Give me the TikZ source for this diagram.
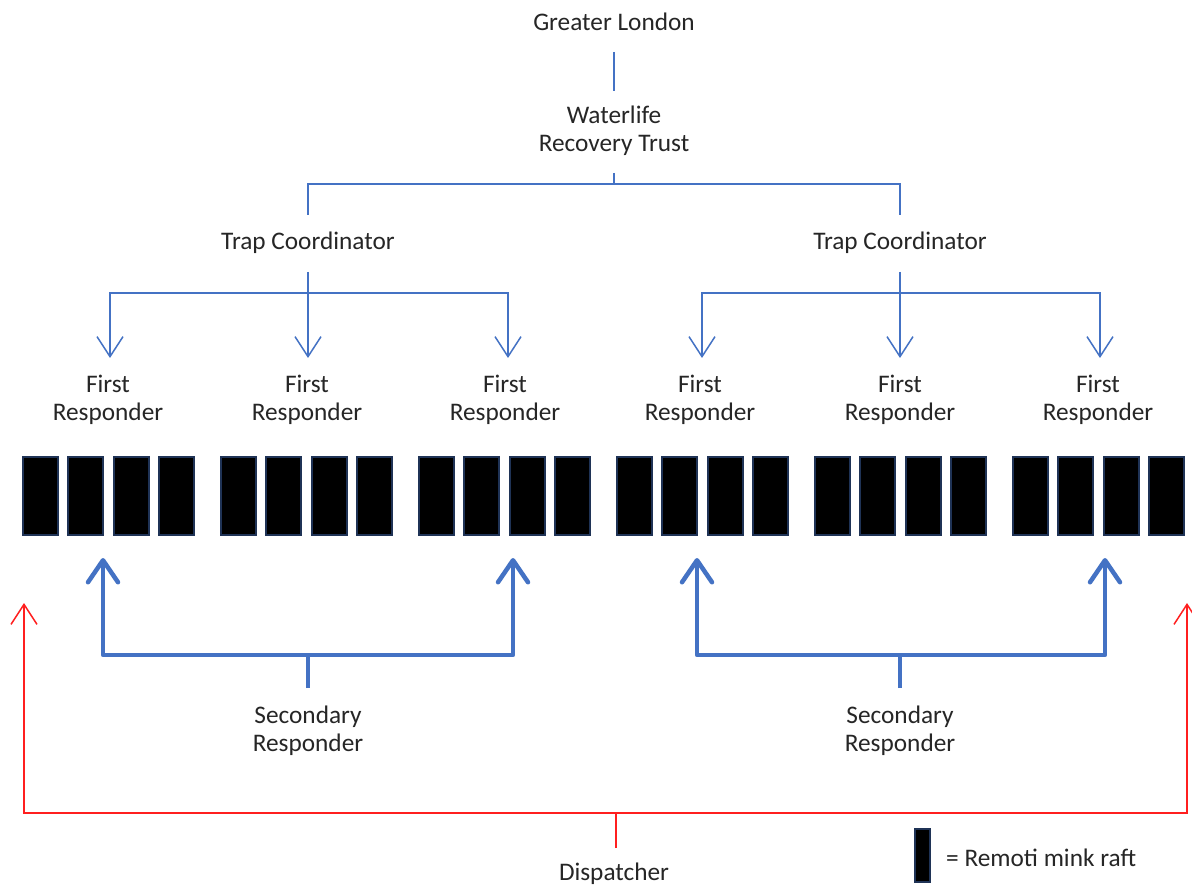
\documentclass[tikz,border=0pt]{standalone}
\usepackage{fontspec}
\setmainfont{Carlito}
\usetikzlibrary{arrows.meta}
\definecolor{lblue}{HTML}{4472C4}
\definecolor{txt}{HTML}{262626}
\definecolor{navy}{HTML}{1F3356}
\definecolor{redl}{HTML}{FF1F1F}
\begin{document}
\begin{tikzpicture}[x=1pt,y=-1pt,
  lbl/.style={inner sep=0pt, align=center, text=txt, font=\fontsize{25.3}{28}\selectfont},
  thinline/.style={draw=lblue, line width=1.5pt},
  thinarrow/.style={thinline, -{Straight Barb[length=20pt,width=26pt]}},
  thickline/.style={draw=lblue, line width=4.5pt, line join=round},
  thickarrow/.style={thickline, -{Straight Barb[length=22pt,width=30pt,round]}},
  redline/.style={draw=redl, line width=1.5pt},
  redarrow/.style={redline, -{Straight Barb[length=20pt,width=26pt]}},
  raft/.style={draw=navy, fill=black, line width=2pt, minimum width=35pt, minimum height=78pt, inner sep=0pt}]
\useasboundingbox (0,0) rectangle (1192,885);
\fill[white] (0,0) rectangle (1192,885);

% text nodes
\node[lbl] (gl) at (614,22) {Greater London};
\node[lbl] (wrt) at (614,131) {Waterlife\\Recovery Trust};
\node[lbl] (tcL) at (308,243) {Trap Coordinator};
\node[lbl] (tcR) at (900,243) {Trap Coordinator};
\foreach \n/\x in {1/108,2/307,3/505,4/700,5/900,6/1098}
  \node[lbl] (fr\n) at (\x,400) {First\\Responder};
\node[lbl] (srL) at (308,731) {Secondary\\Responder};
\node[lbl] (srR) at (900,731) {Secondary\\Responder};
\node[lbl] (disp) at (614,874) {Dispatcher};

% rafts
\foreach \g in {0,...,5}
  \foreach \i in {0,...,3}
    \node[raft] (r\g-\i) at ({22+198*\g+45.3*\i+18.5},496) {};

% legend
\node[raft, minimum width=15pt, minimum height=53pt] (leg) at (922.5,855) {};
\node[lbl, anchor=west] (legt) at (946,858) {= Remoti mink raft};

% coordinates
\coordinate (glb) at (614,52);
\coordinate (wrtt) at (614,91);
\coordinate (wrtb) at (614,173);
\coordinate (wj) at (614,184);
\coordinate (tcLt) at (308,215);
\coordinate (tcRt) at (900,215);
\coordinate (tcLb) at (308,272);
\coordinate (tcRb) at (900,272);
\coordinate (hL) at (308,293);
\coordinate (hR) at (900,293);
\coordinate (t1) at (110,358);
\coordinate (t2) at (308,358);
\coordinate (t3) at (508,358);
\coordinate (t4) at (702,358);
\coordinate (t5) at (900,358);
\coordinate (t6) at (1100,358);
\coordinate (srLt) at (308,688);
\coordinate (srRt) at (900,688);
\coordinate (sjL) at (308,655);
\coordinate (sjR) at (900,655);
\coordinate (u1) at (103,558);
\coordinate (u2) at (513,558);
\coordinate (u3) at (697,558);
\coordinate (u4) at (1105,558);
\coordinate (dispt) at (616,848);
\coordinate (dj) at (616,813);
\coordinate (rL) at (24,603);
\coordinate (rR) at (1187,603);

% top tree
\draw[thinline] (glb) -- (wrtt);
\draw[thinline] (wrtb) -- (wj);
\draw[thinline] (tcLt) |- (wj) -| (tcRt);

% coordinator arrows
\draw[thinarrow] (tcLb) -- (t2);
\draw[thinarrow] (hL) -| (t1);
\draw[thinarrow] (hL) -| (t3);
\draw[thinarrow] (tcRb) -- (t5);
\draw[thinarrow] (hR) -| (t4);
\draw[thinarrow] (hR) -| (t6);

% secondary responders
\draw[thickline] (srLt) -- (sjL);
\draw[thickarrow] (sjL) -| (u1);
\draw[thickarrow] (sjL) -| (u2);
\draw[thickline] (srRt) -- (sjR);
\draw[thickarrow] (sjR) -| (u3);
\draw[thickarrow] (sjR) -| (u4);

% dispatcher
\draw[redline] (dispt) -- (dj);
\draw[redarrow] (dj) -| (rL);
\draw[redarrow] (dj) -| (rR);
\end{tikzpicture}
\end{document}
